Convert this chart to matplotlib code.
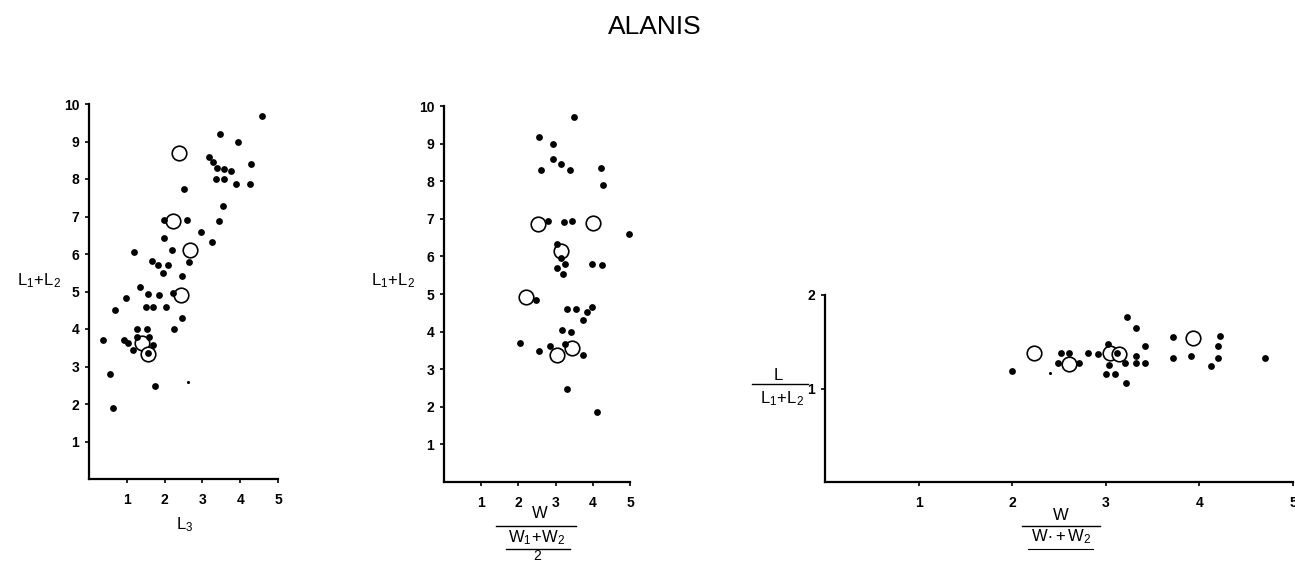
import matplotlib
matplotlib.use("Agg")
import matplotlib.pyplot as plt
from matplotlib.lines import Line2D

plt.rcParams['font.family'] = ['Liberation Sans', 'DejaVu Sans']
plt.rcParams['mathtext.fontset'] = 'custom'
plt.rcParams['mathtext.rm'] = 'Liberation Sans'
plt.rcParams['mathtext.it'] = 'Liberation Sans'

title = "ALANIS"

# Panel 1: L1+L2 vs L3
p1_fill_x = [4.58, 3.47, 3.95, 3.18, 3.28, 3.38, 3.57, 3.75, 4.28, 3.36, 3.58, 3.89, 4.26,
             2.50, 3.54, 3.44, 3.26, 2.96, 2.60, 1.99, 1.98, 2.19, 2.65, 1.19, 1.66, 1.83,
             2.08, 1.97, 2.45, 1.35, 1.57, 1.86, 2.21, 0.98, 0.69, 1.50, 1.70, 2.03, 2.45,
             2.25, 1.28, 1.54, 0.38, 0.93, 1.04, 1.16, 1.26, 1.59, 1.70, 0.56, 0.64, 1.75, 1.55]
p1_fill_y = [9.68, 9.21, 9.00, 8.60, 8.45, 8.30, 8.28, 8.21, 8.39, 8.00, 8.00, 7.87, 7.87,
             7.73, 7.27, 6.88, 6.31, 6.60, 6.91, 6.91, 6.43, 6.11, 5.78, 6.05, 5.82, 5.71,
             5.71, 5.49, 5.41, 5.12, 4.93, 4.91, 4.97, 4.82, 4.51, 4.58, 4.58, 4.58, 4.29,
             4.00, 4.00, 4.00, 3.72, 3.72, 3.62, 3.44, 3.79, 3.79, 3.57, 2.80, 1.89, 2.49, 3.35]
p1_open_x = [2.38, 2.21, 2.67, 2.43, 1.39, 1.55]
p1_open_y = [8.69, 6.88, 6.11, 4.91, 3.63, 3.33]
p1_speck_x = [2.63]
p1_speck_y = [2.60]

# Panel 2: L1+L2 vs W/((W1+W2)/2)
p2_fill_x = [3.49, 2.56, 2.94, 2.92, 3.14, 2.61, 3.39, 4.21, 4.27, 2.80, 3.23, 3.45, 4.96,
             3.03, 3.14, 3.25, 3.03, 3.21, 3.97, 4.25, 2.46, 3.30, 3.54, 3.99, 3.84, 3.74,
             3.18, 3.41, 2.04, 2.56, 2.85, 3.25, 3.74, 3.31, 4.12]
p2_fill_y = [9.70, 9.18, 8.99, 8.60, 8.45, 8.29, 8.31, 8.36, 7.89, 6.93, 6.91, 6.93, 6.60,
             6.32, 5.97, 5.79, 5.70, 5.54, 5.81, 5.76, 4.83, 4.61, 4.61, 4.66, 4.52, 4.30,
             4.03, 3.99, 3.71, 3.49, 3.61, 3.68, 3.39, 2.48, 1.87]
p2_open_x = [2.54, 4.01, 3.14, 2.20, 3.03, 3.43]
p2_open_y = [6.85, 6.88, 6.14, 4.92, 3.39, 3.56]

# Panel 3: L/(L1+L2) vs W/(W1+W2)
p3_fill_x = [2.00, 3.23, 3.32, 3.72, 4.22, 4.20, 3.42, 3.02, 2.52, 2.61, 2.81, 2.92, 2.49,
             2.71, 3.03, 3.12, 3.21, 3.32, 3.32, 3.42, 3.00, 3.10, 3.22, 3.72, 3.91, 4.20,
             4.12, 4.70]
p3_fill_y = [1.19, 1.76, 1.65, 1.55, 1.56, 1.45, 1.45, 1.48, 1.38, 1.38, 1.38, 1.37, 1.27,
             1.27, 1.25, 1.38, 1.27, 1.35, 1.27, 1.27, 1.16, 1.16, 1.06, 1.33, 1.35, 1.33,
             1.24, 1.33]
p3_open_x = [2.23, 2.61, 3.05, 3.14, 3.93]
p3_open_y = [1.38, 1.26, 1.38, 1.37, 1.54]
p3_speck_x = [2.40]
p3_speck_y = [1.17]

tick_x = [1, 2, 3, 4, 5]
tick_y10 = [1, 2, 3, 4, 5, 6, 7, 8, 9, 10]
tick_y2 = [1, 2]

W, H = 1295, 562
fig = plt.figure(figsize=(W / 100, H / 100), dpi=100)


def px_axes(l, r, b, t):
    return fig.add_axes([l / W, 1 - b / H, (r - l) / W, (b - t) / H])


def style(ax, xlim, ylim, xt, yt):
    ax.set_xlim(*xlim)
    ax.set_ylim(*ylim)
    ax.set_xticks(xt)
    ax.set_yticks(yt)
    for s in ['top', 'right']:
        ax.spines[s].set_visible(False)
    for s in ['left', 'bottom']:
        ax.spines[s].set_linewidth(1.6)
    ax.tick_params(axis='both', direction='out', length=3, width=1.2,
                   labelsize=10)
    ax.tick_params(axis='x', pad=7)
    ax.tick_params(axis='y', pad=4)
    for lab in ax.get_xticklabels() + ax.get_yticklabels():
        lab.set_fontweight('bold')
    ax.patch.set_alpha(0)


def scatter(ax, fx, fy, ox, oy):
    ax.scatter(ox, oy, s=110, facecolors='white', edgecolors='black',
               linewidths=1.2, zorder=3, clip_on=False)
    ax.scatter(fx, fy, s=24, color='black', linewidths=0, zorder=4, clip_on=False)


ax1 = px_axes(89, 278, 479, 104)
style(ax1, (0, 5), (0, 10), tick_x, tick_y10)
scatter(ax1, p1_fill_x, p1_fill_y, p1_open_x, p1_open_y)
ax1.scatter(p1_speck_x, p1_speck_y, s=5, color='black', linewidths=0, zorder=4)

ax2 = px_axes(444, 630, 482, 106)
style(ax2, (0, 5), (0, 10), tick_x, tick_y10)
scatter(ax2, p2_fill_x, p2_fill_y, p2_open_x, p2_open_y)

ax3 = px_axes(825, 1293, 482, 295)
style(ax3, (0, 5), (0, 2), tick_x, tick_y2)
scatter(ax3, p3_fill_x, p3_fill_y, p3_open_x, p3_open_y)
ax3.scatter(p3_speck_x, p3_speck_y, s=5, color='black', linewidths=0, zorder=4)


def ftext(x, y, s, size=11, **kw):
    fig.text(x / W, 1 - y / H, s, ha='center', va='center', fontsize=size, **kw)


def fline(x0, x1, y, lw=1.0, ls='-'):
    fig.add_artist(Line2D([x0 / W, x1 / W], [1 - y / H, 1 - y / H],
                          transform=fig.transFigure, color='black', lw=lw, ls=ls))


# Title
ftext(655, 27, title, size=19)

# Panel 1 labels
ftext(39, 281, r'$\mathregular{L_1\!+\!L_2}$', size=12)
ftext(185, 525, r'$\mathregular{L_3}$', size=12)

# Panel 2 labels
ftext(393, 281, r'$\mathregular{L_1\!+\!L_2}$', size=12)
ftext(540, 514, 'W', size=12)
fline(496, 576, 526)
ftext(537, 538, r'$\mathregular{W_1\!+\!W_2}$', size=12)
fline(506, 570, 549)
ftext(537, 556, '2', size=10)

# Panel 3 labels
ftext(778, 376, 'L', size=12)
fline(752, 808, 384)
ftext(782, 399, r'$\mathregular{L_1\!+\!L_2}$', size=12)
ftext(1061, 516, 'W', size=12)
fline(1022, 1100, 526)
ftext(1061, 537, r'$\mathregular{W\!\cdot\!+W_2}$', size=12)
fline(1028, 1093, 549, lw=0.8)

fig.savefig('out.png', dpi=100)
